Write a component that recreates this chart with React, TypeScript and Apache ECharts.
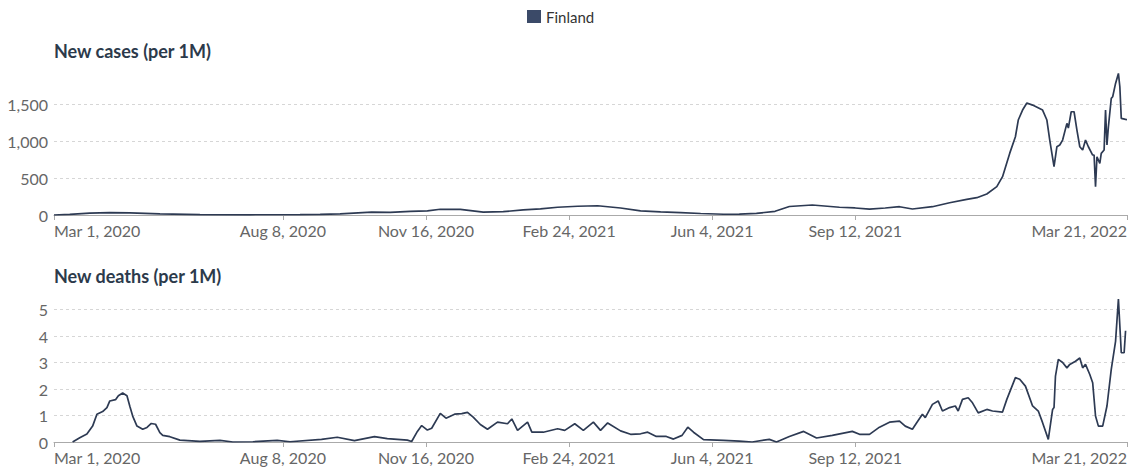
import React, { useEffect, useRef } from "react";
import * as echarts from "echarts";

// x values are days since Mar 1, 2020
const xTickDays = [0, 160, 260, 360, 460, 560, 750];
const xTickLabels = [
  "Mar 1, 2020",
  "Aug 8, 2020",
  "Nov 16, 2020",
  "Feb 24, 2021",
  "Jun 4, 2021",
  "Sep 12, 2021",
  "Mar 21, 2022",
];

const caseTicks = [0, 500, 1000, 1500];
const deathTicks = [0, 1, 2, 3, 4, 5];

const caseDays = [
  0, 11, 25, 39, 53, 74, 102, 137, 172, 186, 200, 222, 235, 249, 261, 270, 284, 300, 314, 328,
  340, 352, 366, 380, 396, 410, 424, 438, 452, 468, 479, 491, 504, 514, 530, 549, 560, 570, 581, 591,
  600, 614, 626, 638, 645, 652, 659, 663, 668, 672, 674, 677, 680, 684, 691, 694, 696, 699, 701, 703,
  705, 708, 709, 711, 713, 715, 717, 719, 721, 723, 726, 727, 728, 729, 731, 732, 734, 735, 736, 737,
  739, 740, 742, 744, 745, 746, 749, 750,
];
const caseValues = [
  0, 8, 25, 32, 28, 15, 5, 3, 4, 8, 15, 40, 35, 48, 55, 78, 75, 38, 45, 68,
  82, 105, 118, 125, 95, 55, 42, 32, 20, 10, 12, 22, 50, 115, 135, 105, 95, 80, 95, 112,
  81, 112, 166, 212, 234, 284, 383, 518, 833, 1058, 1284, 1419, 1515, 1486, 1419, 1284, 1013, 653, 923, 946,
  1013, 1239, 1175, 1396, 1396, 1148, 923, 878, 1013, 923, 811, 811, 383, 788, 698, 833, 878, 1419, 946, 1193,
  1577, 1599, 1779, 1914, 1734, 1306, 1293, 1290,
];

const deathDays = [
  13, 18, 23, 27, 30, 34, 37, 39, 43, 45, 48, 51, 53, 55, 58, 62, 65, 68, 71, 74,
  76, 81, 88, 102, 116, 125, 139, 156, 165, 187, 198, 210, 224, 233, 247, 250, 254, 257, 261, 264,
  270, 274, 280, 285, 289, 293, 298, 303, 310, 317, 320, 324, 331, 334, 342, 352, 357, 364, 370, 377,
  382, 387, 396, 403, 410, 415, 421, 428, 433, 439, 443, 447, 454, 468, 479, 488, 500, 505, 514, 524,
  533, 544, 558, 563, 570, 577, 584, 591, 595, 600, 603, 607, 609, 614, 618, 621, 626, 630, 632, 635,
  639, 642, 646, 652, 656, 663, 666, 672, 675, 679, 684, 688, 691, 695, 698, 699, 700, 702, 705, 708,
  710, 714, 717, 719, 721, 724, 726, 728, 730, 733, 736, 739, 742, 744, 746, 748, 749,
];
const deathValues = [
  0, 0.16, 0.3, 0.6, 1.05, 1.15, 1.3, 1.55, 1.6, 1.75, 1.85, 1.75, 1.35, 0.98, 0.6, 0.48, 0.55, 0.7, 0.67, 0.35,
  0.25, 0.2, 0.07, 0.02, 0.06, 0.0, 0.01, 0.06, 0.01, 0.1, 0.18, 0.05, 0.2, 0.13, 0.07, 0.02, 0.4, 0.62, 0.45, 0.52,
  1.08, 0.9, 1.05, 1.07, 1.12, 0.94, 0.66, 0.48, 0.75, 0.69, 0.87, 0.44, 0.75, 0.37, 0.37, 0.5, 0.44, 0.69, 0.44, 0.75,
  0.44, 0.72, 0.42, 0.29, 0.31, 0.37, 0.21, 0.21, 0.11, 0.25, 0.56, 0.37, 0.09, 0.06, 0.03, 0.0, 0.1, 0.0, 0.21, 0.4,
  0.15, 0.25, 0.4, 0.29, 0.29, 0.56, 0.75, 0.79, 0.6, 0.48, 0.73, 1.05, 0.92, 1.42, 1.55, 1.17, 1.3, 1.36, 1.17, 1.61,
  1.67, 1.48, 1.1, 1.23, 1.17, 1.13, 1.61, 2.43, 2.37, 2.11, 1.36, 1.17, 0.73, 0.1, 1.23, 1.3, 2.49, 3.12, 3.0, 2.8,
  2.93, 3.05, 3.17, 2.8, 2.93, 2.55, 2.24, 0.98, 0.6, 0.6, 1.36, 2.74, 3.8, 5.4, 3.37, 3.37, 4.2,
];

const LINE_COLOR = "#2d3a53";
const LABEL_COLOR = "#666";
const FONT = "Lato, 'Noto Sans', sans-serif";

function pairs(days: number[], values: number[]) {
  return days.map((d, i) => [d, values[i]]);
}

function makeX(gridIndex: number) {
  return {
    type: "value",
    gridIndex,
    min: 0,
    max: 750,
    axisLine: { show: true, lineStyle: { color: "#aaa", width: 1 } },
    axisTick: {
      show: true,
      customValues: xTickDays,
      length: 5,
      inside: false,
      lineStyle: { color: "#aaa" },
    },
    axisLabel: {
      customValues: xTickDays,
      formatter: (v: number) => {
        const i = xTickDays.indexOf(v);
        return i >= 0 ? xTickLabels[i] : "";
      },
      color: LABEL_COLOR,
      fontFamily: FONT,
      fontSize: 16,
      margin: 7,
      alignMinLabel: "left",
      alignMaxLabel: "right",
    },
    splitLine: { show: false },
  };
}

function makeY(gridIndex: number, max: number, ticks: number[]) {
  return {
    type: "value",
    gridIndex,
    min: 0,
    max,
    axisLine: { show: false },
    axisTick: { show: false, customValues: ticks },
    axisLabel: {
      customValues: ticks,
      formatter: (v: number) => v.toLocaleString("en-US"),
      color: LABEL_COLOR,
      fontFamily: FONT,
      fontSize: 16,
      margin: 6,
    },
    splitLine: {
      show: true,
      lineStyle: { color: "#d6d6d6", type: [3, 3], width: 1 },
    },
  };
}

export default function App() {
  const ref = useRef<HTMLDivElement>(null);
  useEffect(() => {
    if (!ref.current) return;
    const chart = echarts.init(ref.current, null, { renderer: "svg" });
    chart.setOption({
      animation: false,
      backgroundColor: "#fff",
      title: [
        {
          text: "New cases (per 1M)",
          left: 54,
          top: 42,
          padding: 0,
          textStyle: { fontFamily: FONT, fontSize: 18, fontWeight: "bold", color: "#2c3a4b" },
        },
        {
          text: "New deaths (per 1M)",
          left: 54,
          top: 267,
          padding: 0,
          textStyle: { fontFamily: FONT, fontSize: 18, fontWeight: "bold", color: "#2c3a4b" },
        },
      ],
      legend: {
        data: ["Finland"],
        left: 527,
        top: 9,
        padding: 0,
        icon: "rect",
        itemWidth: 14,
        itemHeight: 13,
        itemGap: 6,
        textStyle: { fontFamily: FONT, fontSize: 15, color: "#333" },
      },
      grid: [
        { left: 54, right: 5, top: 73, bottom: 256, containLabel: false },
        { left: 54, right: 5, top: 299, bottom: 29, containLabel: false },
      ],
      xAxis: [makeX(0), makeX(1)],
      yAxis: [makeY(0, 1920, caseTicks), makeY(1, 5.4, deathTicks)],
      series: [
        {
          name: "Finland",
          type: "line",
          xAxisIndex: 0,
          yAxisIndex: 0,
          data: pairs(caseDays, caseValues),
          showSymbol: false,
          symbol: "none",
          lineStyle: { color: LINE_COLOR, width: 1.7 },
          itemStyle: { color: "#3b4a68" },
        },
        {
          name: "Finland",
          type: "line",
          xAxisIndex: 1,
          yAxisIndex: 1,
          data: pairs(deathDays, deathValues),
          showSymbol: false,
          symbol: "none",
          lineStyle: { color: LINE_COLOR, width: 1.7 },
          itemStyle: { color: "#3b4a68" },
        },
      ],
    });
    return () => chart.dispose();
  }, []);
  return (
    <div
      ref={ref}
      style={{ position: "absolute", left: 0, top: 0, width: 1132, height: 471 }}
    />
  );
}
